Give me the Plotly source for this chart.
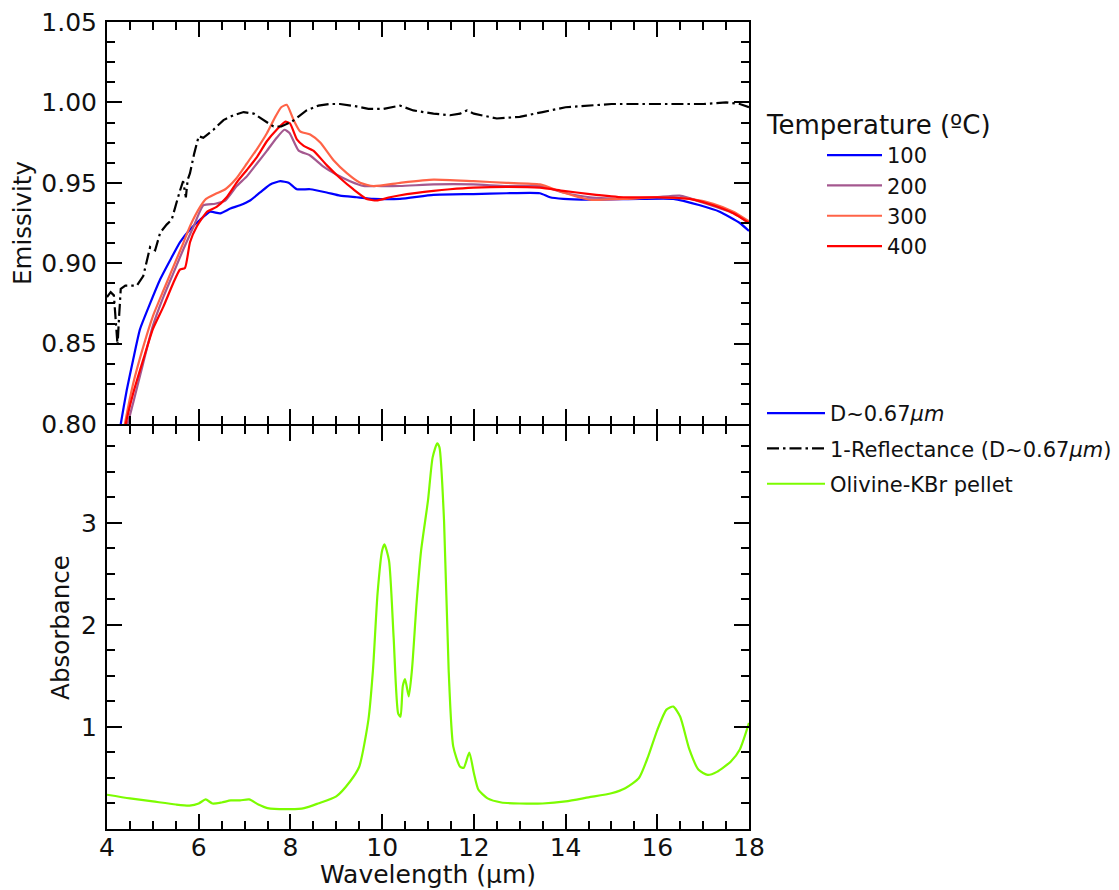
import plotly.graph_objects as go

# ---------------- data ----------------
wl_100 = [4.22, 4.30, 4.43, 4.57, 4.72, 4.94, 5.16, 5.38, 5.59, 5.81, 6.03, 6.25, 6.47, 6.69, 6.90,
          7.12, 7.34, 7.56, 7.78, 7.96, 8.14, 8.43, 8.79, 9.08, 9.44, 9.81, 10.39, 11.12, 11.99,
          12.71, 13.44, 13.66, 13.95, 14.53, 15.62, 16.35, 16.93, 17.36, 17.80, 18.00]
em_100 = [0.785, 0.800, 0.821, 0.840, 0.859, 0.875, 0.890, 0.902, 0.913, 0.921, 0.927, 0.932, 0.931,
          0.934, 0.936, 0.939, 0.944, 0.949, 0.951, 0.950, 0.946, 0.946, 0.944, 0.942, 0.941, 0.940,
          0.940, 0.9425, 0.943, 0.9435, 0.9435, 0.941, 0.940, 0.9395, 0.940, 0.940, 0.936, 0.932,
          0.925, 0.920]

wl_200 = [4.35, 4.45, 4.57, 4.79, 5.00, 5.23, 5.45, 5.67, 5.89, 6.10, 6.36, 6.58, 6.83, 7.05, 7.27,
          7.49, 7.70, 7.87, 7.98, 8.18, 8.43, 8.72, 9.01, 9.30, 9.59, 9.88, 10.39, 11.12, 11.99,
          12.71, 13.44, 13.95, 14.53, 15.26, 15.99, 16.49, 17.07, 17.66, 18.00]
em_200 = [0.785, 0.800, 0.813, 0.838, 0.861, 0.879, 0.894, 0.909, 0.923, 0.936, 0.937, 0.939, 0.948,
          0.954, 0.962, 0.970, 0.978, 0.983, 0.981, 0.970, 0.967, 0.960, 0.955, 0.951, 0.948, 0.948,
          0.948, 0.949, 0.949, 0.948, 0.948, 0.944, 0.941, 0.940, 0.941, 0.942, 0.937, 0.931, 0.925]

wl_300 = [4.30, 4.39, 4.57, 4.79, 5.00, 5.23, 5.45, 5.67, 5.81, 6.03, 6.16, 6.36, 6.58, 6.80, 7.05,
          7.27, 7.49, 7.67, 7.80, 7.92, 8.07, 8.21, 8.43, 8.65, 8.94, 9.23, 9.52, 9.81, 10.39, 11.12,
          11.99, 12.71, 13.44, 13.95, 14.53, 15.26, 15.99, 16.71, 17.22, 17.66, 18.00]
em_300 = [0.785, 0.800, 0.825, 0.848, 0.867, 0.883, 0.898, 0.913, 0.923, 0.935, 0.940, 0.943, 0.946,
          0.952, 0.962, 0.971, 0.981, 0.991, 0.997, 0.9985, 0.989, 0.982, 0.980, 0.975, 0.964, 0.956,
          0.950, 0.948, 0.950, 0.952, 0.951, 0.950, 0.949, 0.944, 0.9395, 0.940, 0.941, 0.940, 0.937,
          0.932, 0.926]

wl_400 = [4.33, 4.41, 4.57, 4.79, 5.00, 5.23, 5.45, 5.59, 5.70, 5.81, 5.96, 6.18, 6.39, 6.61, 6.85,
          7.05, 7.27, 7.49, 7.70, 7.89, 7.99, 8.14, 8.29, 8.50, 8.79, 9.08, 9.37, 9.66, 9.88, 10.17,
          10.54, 11.12, 11.48, 11.99, 12.71, 13.44, 13.95, 14.53, 15.26, 15.99, 16.71, 17.22, 17.66,
          18.00]
em_400 = [0.785, 0.800, 0.819, 0.840, 0.859, 0.873, 0.888, 0.896, 0.897, 0.913, 0.923, 0.932, 0.935,
          0.941, 0.951, 0.958, 0.966, 0.976, 0.983, 0.988, 0.987, 0.977, 0.973, 0.970, 0.961, 0.953,
          0.946, 0.940, 0.939, 0.941, 0.943, 0.945, 0.946, 0.947, 0.9475, 0.947, 0.945, 0.943, 0.941,
          0.941, 0.940, 0.936, 0.931, 0.925]

wl_refl = [4.00, 4.08, 4.15, 4.20, 4.23, 4.26, 4.30, 4.40, 4.50, 4.65, 4.79, 4.94, 5.05, 5.16, 5.30,
           5.41, 5.59, 5.66, 5.72, 5.76, 5.81, 5.90, 6.00, 6.10, 6.32, 6.54, 6.76, 6.98, 7.20, 7.42,
           7.63, 7.80, 8.03, 8.35, 8.61, 8.85, 9.08, 9.44, 9.70, 10.03, 10.39, 10.68, 11.12, 11.48,
           11.70, 11.85, 12.00, 12.50, 13.00, 13.50, 14.00, 15.00, 16.00, 17.00, 17.50, 17.80, 18.00]
refl = [0.879, 0.882, 0.880, 0.862, 0.849, 0.865, 0.884, 0.886, 0.886, 0.886, 0.892, 0.910, 0.908,
        0.919, 0.924, 0.927, 0.945, 0.951, 0.941, 0.952, 0.956, 0.968, 0.979, 0.978, 0.983, 0.989,
        0.992, 0.994, 0.993, 0.989, 0.985, 0.985, 0.988, 0.995, 0.998, 0.999, 0.999, 0.9975, 0.996,
        0.996, 0.998, 0.995, 0.993, 0.992, 0.993, 0.995, 0.993, 0.990, 0.991, 0.994, 0.997, 0.999,
        0.999, 0.999, 1.000, 0.999, 0.997]

wl_kbr = [4.0, 4.5, 5.0, 5.5, 5.8, 6.0, 6.15, 6.3, 6.5, 6.7, 6.9, 7.1, 7.3, 7.5, 8.0, 8.3, 8.6, 9.0,
          9.3, 9.5, 9.7, 9.8, 9.9, 10.0, 10.05, 10.15, 10.25, 10.35, 10.4, 10.45, 10.5, 10.58, 10.65,
          10.75, 10.85, 11.0, 11.1, 11.2, 11.25, 11.35, 11.45, 11.55, 11.7, 11.78, 11.9, 12.0, 12.1,
          12.3, 12.6, 13.0, 13.5, 14.0, 14.5, 15.0, 15.3, 15.6, 15.8, 16.0, 16.2, 16.35, 16.5, 16.7,
          16.9, 17.1, 17.3, 17.6, 17.8, 18.0]
absorb = [0.336, 0.30, 0.27, 0.24, 0.23, 0.25, 0.29, 0.25, 0.26, 0.28, 0.28, 0.29, 0.24, 0.205, 0.195,
          0.205, 0.25, 0.32, 0.466, 0.61, 1.07, 1.56, 2.31, 2.73, 2.79, 2.63, 1.88, 1.13, 1.10, 1.40,
          1.47, 1.30, 1.56, 2.21, 2.73, 3.22, 3.64, 3.78, 3.74, 3.02, 1.56, 0.81, 0.61, 0.60, 0.75,
          0.55, 0.385, 0.30, 0.26, 0.25, 0.25, 0.27, 0.31, 0.35, 0.40, 0.50, 0.71, 0.97, 1.17, 1.20,
          1.10, 0.78, 0.58, 0.53, 0.56, 0.66, 0.78, 1.04]

temps = ["100", "200", "300", "400"]
x_ticks = [4, 6, 8, 10, 12, 14, 16, 18]
em_ticks = [0.80, 0.85, 0.90, 0.95, 1.00, 1.05]
ab_ticks = [1, 2, 3]

# ---------------- figure ----------------
FONT = "DejaVu Sans"
TXT = "#111111"
fig = go.Figure()

series = [(wl_100, em_100, "#0000ff"), (wl_200, em_200, "#a4588f"),
          (wl_300, em_300, "#ff6347"), (wl_400, em_400, "#ff0000")]
for (wl, em, col), t in zip(series, temps):
    fig.add_trace(go.Scatter(x=wl, y=em, mode="lines", name=t, legend="legend",
                             line=dict(color=col, width=2.2, shape="spline", smoothing=0.5),
                             xaxis="x", yaxis="y"))

fig.add_trace(go.Scatter(x=wl_refl, y=refl, mode="lines", name="1-Reflectance (D~0.67<i>μm</i>)",
                         legend="legend2", legendrank=2, legendgroup="g2",
                         line=dict(color="black", width=2.2, dash="12px,4px,2.5px,4px"),
                         xaxis="x", yaxis="y"))
fig.add_trace(go.Scatter(x=[None], y=[None], mode="lines", name="D~0.67<i>μm</i>",
                         legend="legend2", legendrank=1, legendgroup="g1",
                         line=dict(color="#0000ff", width=2.2), xaxis="x", yaxis="y"))
fig.add_trace(go.Scatter(x=wl_kbr, y=absorb, mode="lines", name="Olivine-KBr pellet",
                         legend="legend2", legendrank=3, legendgroup="g3",
                         line=dict(color="#7cfc00", width=2.2, shape="spline", smoothing=0.6),
                         xaxis="x2", yaxis="y2"))

# the page body adds an 8px offset, so the figure is 8px smaller than the window
OFF = 8
W, H = 1119 - OFF, 890 - OFF
L, R, T, B = 107 - OFF, 370, 22 - OFF, 61
PW, PH = W - L - R, H - T - B          # 642 x 807 ; plot spans image px 107..749, 22..829


def px(xi):  # image x pixel -> paper x
    return (xi - 107) / PW


def py(yi):  # image y pixel -> paper y
    return (829 - yi) / PH


axis_common = dict(showline=True, linecolor="black", linewidth=2, mirror="allticks",
                   ticks="inside", ticklen=15, tickwidth=2, tickcolor="black",
                   showgrid=False, zeroline=False, automargin=False,
                   ticklabeloverflow="allow",
                   tickfont=dict(family=FONT, size=25, color=TXT))
minor_common = dict(ticks="inside", ticklen=8, tickwidth=1.5, tickcolor="black")
title_font = dict(family=FONT, size=24.5, color=TXT)

fig.update_layout(
    template="none",
    width=W, height=H,
    margin=dict(l=L, r=R, t=T, b=B, autoexpand=False),
    paper_bgcolor="white", plot_bgcolor="white",
    font=dict(family=FONT, color=TXT),
    xaxis=dict(domain=[0, 1], range=[4, 18], anchor="y", matches="x2",
               tickmode="array", tickvals=x_ticks, showticklabels=False,
               minor=dict(dtick=0.5, tick0=4, **minor_common),
               **axis_common),
    yaxis=dict(domain=[py(424), 1], range=[0.80, 1.05], anchor="x",
               tickmode="array", tickvals=em_ticks, tickformat=".2f", ticklabelstandoff=3,
               minor=dict(dtick=0.0125, tick0=0.8, **minor_common),
               title=dict(text="Emissivity", font=title_font, standoff=5),
               **axis_common),
    xaxis2=dict(domain=[0, 1], range=[4, 18], anchor="y2",
                tickmode="array", tickvals=x_ticks, ticklabelstandoff=0,
                minor=dict(dtick=0.5, tick0=4, **minor_common),
                **axis_common),
    yaxis2=dict(domain=[0, py(426)], range=[0, 3.95], anchor="x2",
                tickmode="array", tickvals=ab_ticks, ticklabelstandoff=3,
                minor=dict(dtick=0.25, tick0=0, **minor_common),
                title=dict(text="Absorbance", font=title_font, standoff=5),
                **axis_common),
    legend=dict(x=px(822), y=py(135), xanchor="left", yanchor="top",
                bgcolor="rgba(0,0,0,0)", borderwidth=0, itemwidth=55,
                font=dict(family=FONT, size=21, color=TXT), tracegroupgap=0),
    legend2=dict(x=px(762), y=py(393), xanchor="left", yanchor="top",
                 bgcolor="rgba(0,0,0,0)", borderwidth=0, itemwidth=58,
                 font=dict(family=FONT, size=21, color=TXT), tracegroupgap=5),
    annotations=[
        dict(text="Temperature (ºC)", x=px(764), y=py(125),
             xref="paper", yref="paper", xanchor="left", yanchor="middle",
             showarrow=False, font=dict(family=FONT, size=26, color=TXT)),
        dict(text="Wavelength (μm)", x=0.5, y=py(874),
             xref="paper", yref="paper", xanchor="center", yanchor="middle",
             showarrow=False, font=dict(family=FONT, size=25, color=TXT)),
    ],
)

# pull the x tick labels a little closer to the axis, as in the reference
try:
    fig.update_xaxes(ticklabelstandoff=-5, selector=dict(anchor="y2"))
except ValueError:
    pass

fig.write_html("out.html")
